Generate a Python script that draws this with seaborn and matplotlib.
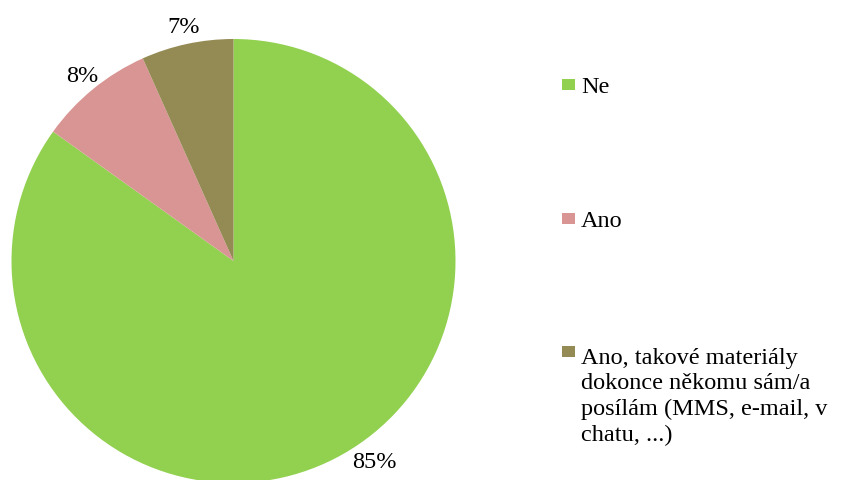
import numpy as np
import matplotlib
matplotlib.use("Agg")
import matplotlib.pyplot as plt
import seaborn as sns
from matplotlib.patches import Rectangle

# data
labels = ["Ne", "Ano",
          "Ano, takové materiály\ndokonce někomu sám/a\nposílám (MMS, e-mail, v\nchatu, ...)"]
values = [84.9, 8.4, 6.7]
colors = ["#92D050", "#D99594", "#948A54"]

sns.set_theme(style="white")
plt.rcParams["font.family"] = ["Liberation Serif", "DejaVu Serif"]

W, H = 855, 480
fig = plt.figure(figsize=(W / 100, H / 100), dpi=100)
fig.patch.set_facecolor("white")

def fx(px):
    return px / W

def fy(py):
    return (H - py) / H

# pie: center (233.5, 261) px, radius 222 px
cx, cy, R = 233.5, 261, 222
ax = fig.add_axes([fx(cx - R), fy(cy + R), 2 * R / W, 2 * R / H])
wedges, texts, autotexts = ax.pie(values, colors=colors, startangle=90, counterclock=False,
                                  autopct="%.0f%%", pctdistance=1.075, radius=1,
                                  wedgeprops=dict(linewidth=0),
                                  textprops=dict(fontsize=17.5, color="black"))
ax.set_xlim(-1, 1)
ax.set_ylim(-1, 1)
ax.set_aspect("equal")
ax.axis("off")
for w in wedges:
    w.set_clip_on(False)

# Excel nudges the big label away from the bottom edge
ang = np.deg2rad(-55)
autotexts[0].set_position((1.11 * np.cos(ang), 1.11 * np.sin(ang)))

# legend, drawn by hand so the square sits on the first line
line_gap = 27
baselines = [93, 227, 360]
for lab, col, base in zip(labels, colors, baselines):
    fig.add_artist(Rectangle((fx(562), fy(base - 3)), 13 / W, 11 / H,
                             transform=fig.transFigure, facecolor=col, edgecolor="none"))
    n_lines = lab.count("\n")
    # multi-line text sits on its last baseline
    fig.text(fx(581), fy(base + n_lines * line_gap), lab, fontsize=17.5,
             va="baseline", ha="left", linespacing=1.29, color="black")

fig.savefig("out.png", dpi=100)
